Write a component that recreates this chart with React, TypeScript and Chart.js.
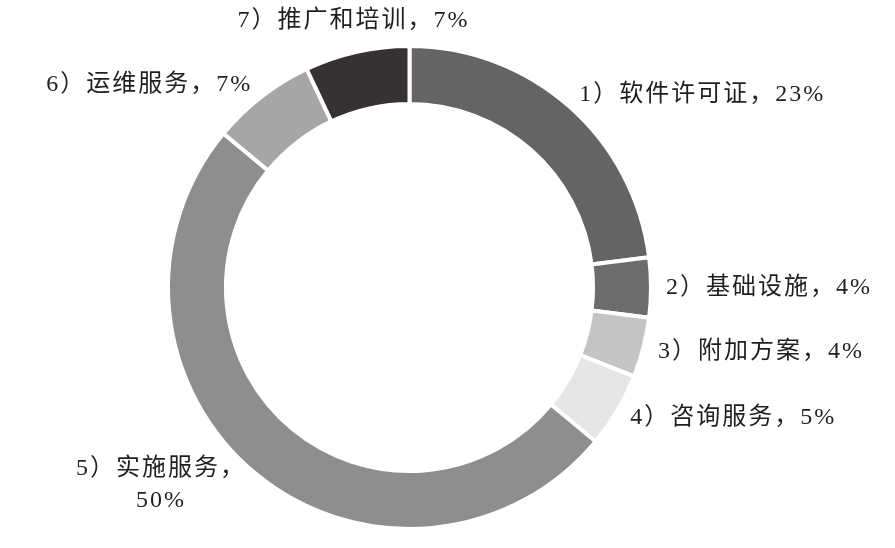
import { useEffect, useRef } from "react";
import { Chart, registerables } from "chart.js";

Chart.register(...registerables);

// 数据
const categories = ["软件许可证", "基础设施", "附加方案", "咨询服务", "实施服务", "运维服务", "推广和培训"];
const shares = [23, 4, 4, 5, 50, 7, 7];
const sliceColors = ["#646464", "#6c6c6c", "#c4c4c4", "#e6e6e6", "#8e8e8e", "#a6a6a6", "#363133"];
// 标签换行的扇区
const wrappedLabels = [4];

const FONT = '24px "Liberation Serif", "Noto Sans CJK SC", serif';

const outsideLabels = {
  id: "outsideLabels",
  afterDraw(chart: Chart) {
    const ctx = chart.ctx;
    const meta = chart.getDatasetMeta(0);
    ctx.save();
    ctx.font = FONT;
    (ctx as any).letterSpacing = "2px";
    ctx.fillStyle = "#1f1f1f";
    ctx.textBaseline = "middle";
    ctx.textAlign = "center";
    const lineHeight = 32;
    meta.data.forEach((el: any, i: number) => {
      const { x, y, startAngle, endAngle, outerRadius } = el.getProps(
        ["x", "y", "startAngle", "endAngle", "outerRadius"],
        true
      );
      const mid = (startAngle + endAngle) / 2;
      const r = outerRadius + 15;
      const ax = x + Math.cos(mid) * r;
      const ay = y + Math.sin(mid) * r;
      const head = `${i + 1}）${categories[i]}，`;
      const tail = `${shares[i]}%`;
      const lines = wrappedLabels.includes(i) ? [head, tail] : [head + tail];
      const w = Math.max(...lines.map((l) => ctx.measureText(l).width));
      const c = Math.cos(mid);
      const s = Math.sin(mid);
      let cx = ax;
      if (c > 0.3) cx = ax + w / 2;
      else if (c < -0.3) cx = ax - w / 2;
      const blockH = lines.length * lineHeight;
      let top = ay - blockH / 2;
      if (Math.abs(c) <= 0.3) top = s < 0 ? ay - blockH : ay;
      lines.forEach((l, k) => {
        ctx.fillText(l, cx, top + lineHeight * (k + 0.5));
      });
    });
    ctx.restore();
  },
};

export default function App() {
  const canvasRef = useRef<HTMLCanvasElement>(null);
  const chartRef = useRef<Chart | null>(null);

  useEffect(() => {
    document.body.style.margin = "0";
    if (!canvasRef.current) return;
    const ctx = canvasRef.current.getContext("2d");
    if (!ctx) return;

    if (chartRef.current) chartRef.current.destroy();

    chartRef.current = new Chart(ctx, {
      type: "doughnut",
      data: {
        labels: categories,
        datasets: [
          {
            data: shares,
            backgroundColor: sliceColors,
            borderColor: "#ffffff",
            borderWidth: 4,
            hoverOffset: 0,
          },
        ],
      },
      options: {
        responsive: false,
        animation: false,
        cutout: "76%",
        layout: {
          padding: { top: 44, bottom: 17, left: 166, right: 242 },
        },
        plugins: {
          legend: { display: false },
          tooltip: { enabled: false },
        },
      },
      plugins: [outsideLabels],
    });

    return () => {
      if (chartRef.current) {
        chartRef.current.destroy();
        chartRef.current = null;
      }
    };
  }, []);

  return (
    <div style={{ width: 895, height: 548, background: "#fff" }}>
      <canvas ref={canvasRef} width={895} height={548} />
    </div>
  );
}
